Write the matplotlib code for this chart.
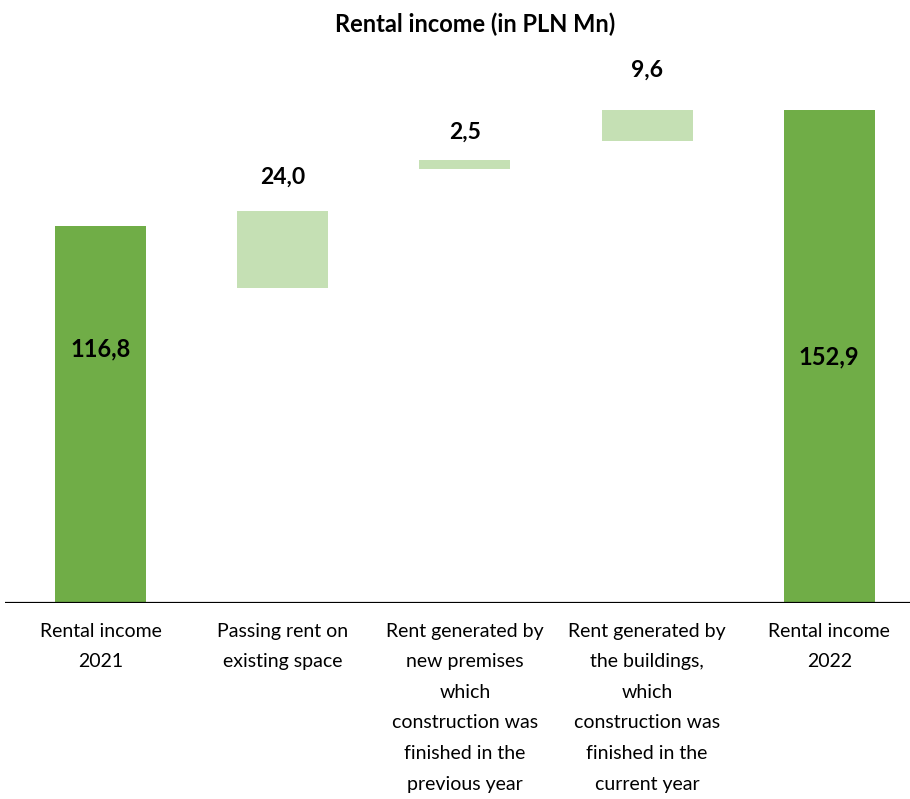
import matplotlib
matplotlib.use("Agg")
import matplotlib.pyplot as plt

plt.rcParams['font.family'] = ['Lato', 'DejaVu Sans']

# Waterfall data (PLN Mn)
categories = [
    "Rental income\n2021",
    "Passing rent on\nexisting space",
    "Rent generated by\nnew premises\nwhich\nconstruction was\nfinished in the\nprevious year",
    "Rent generated by\nthe buildings,\nwhich\nconstruction was\nfinished in the\ncurrent year",
    "Rental income\n2022",
]
values = [116.8, 24.0, 2.5, 9.6, 152.9]
bases = [0.0, 97.7, 134.7, 143.3, 0.0]
is_total = [True, False, False, False, True]
value_labels = ["116,8", "24,0", "2,5", "9,6", "152,9"]

DARK = "#70AD47"
LIGHT = "#C5E0B4"

fig = plt.figure(figsize=(9.10, 7.99), dpi=100)
ax = fig.add_axes([0.0055, 0.245, 0.9945, 0.6866])

x = list(range(len(categories)))
colors = [DARK if t else LIGHT for t in is_total]
ax.bar(x, values, bottom=bases, width=0.5, color=colors, linewidth=0)

# label placement: totals inside the bar, increments above
inside_y = {0: 78.8, 4: values[4] / 2}
above_offset_px = {1: 33, 2: 28, 3: 40}
for i, (v, b, lab) in enumerate(zip(values, bases, value_labels)):
    if is_total[i]:
        ax.text(i, inside_y[i], lab, ha="center", va="center",
                fontsize=17, fontweight="bold", color="black")
    else:
        ax.annotate(lab, xy=(i, b + v), xytext=(0, above_offset_px[i] * 0.72),
                    textcoords="offset points", ha="center", va="center",
                    fontsize=16.5, fontweight="bold", color="black")

ax.set_xlim(-0.524, 4.443)
ax.set_ylim(0, 170)
ax.axhline(0, color="black", linewidth=1.6, zorder=3)

for s in ax.spines.values():
    s.set_visible(False)
ax.set_yticks([])
ax.set_xticks(x)
ax.set_xticklabels(categories, fontsize=14, linespacing=1.97)
ax.tick_params(axis="x", length=0, pad=14)

fig.text(0.522, 0.970, "Rental income (in PLN Mn)", ha="center", va="center",
         fontsize=17, fontweight="bold")

fig.savefig("out.png", dpi=100, facecolor="white")
